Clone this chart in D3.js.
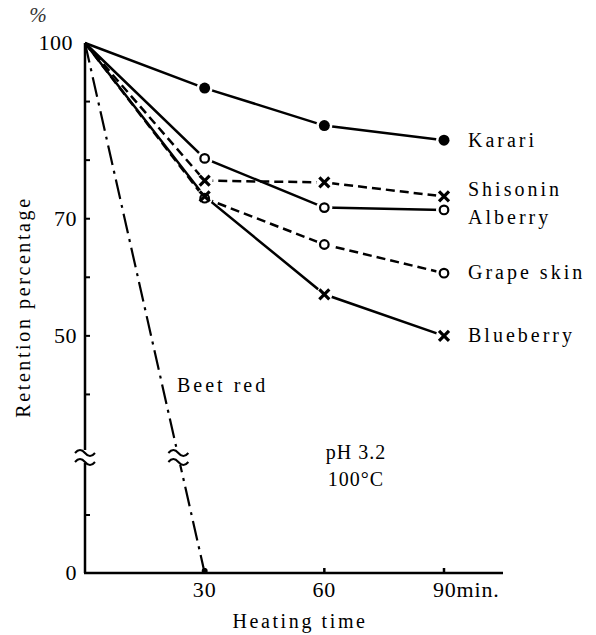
<!DOCTYPE html>
<html>
<head>
<meta charset="utf-8">
<script src="https://cdn.jsdelivr.net/npm/d3@7"></script>
<style>
  body { margin: 0; background: #fff; }
</style>
</head>
<body>
<div id="chart"></div>
<script>
// Data (retention %, heating time in min)
var times = [0, 30, 60, 90];
var karari    = [100, 92.3, 85.9, 83.4];
var shisonin  = [100, 76.5, 76.2, 73.8];
var alberry   = [100, 80.3, 71.9, 71.5];
var grapeSkin = [100, 73.5, 65.6, 60.7];
var blueberry = [100, 73.8, 57.1, 50.0];
var beetTimes = [0, 30];
var beetRed   = [100, 0];
var seriesNames = ["Karari", "Shisonin", "Alberry", "Grape skin", "Blueberry"];
var yTickLabels = [100, 70, 50, 0];
var yTicks = [90, 80, 70, 60, 50, 40, 10];
var xTicks = [30, 60, 90];
var xTickLabels = ["30", "60", "90min."];

var width = 596, height = 635;
var serif = "Liberation Serif";

var svg = d3.select("#chart").append("svg")
    .attr("width", width)
    .attr("height", height);

function label(sel, size, spacing) {
  return sel.style("font-family", serif)
      .style("font-size", size + "px")
      .style("letter-spacing", spacing + "px")
      .style("fill", "#000");
}

// Scales (y axis is broken between 10 and 30)
var x = d3.scaleLinear().domain([0, 90]).range([85, 444]);
var y = d3.scaleLinear().domain([0, 10, 30, 100]).range([573, 515, 453, 43]);
var breakTop = 450, breakBottom = 463;

// Styles per series
var styles = {
  "Karari":     { values: karari,    marker: "dot",    dash: null, labelDy: 7 },
  "Shisonin":   { values: shisonin,  marker: "cross",  dash: "9,5", labelDy: 0 },
  "Alberry":    { values: alberry,   marker: "circle", dash: null, labelDy: 14 },
  "Grape skin": { values: grapeSkin, marker: "circle", dash: "9,5", labelDy: 6 },
  "Blueberry":  { values: blueberry, marker: "cross",  dash: null, labelDy: 6 }
};

var line = d3.line()
    .x(function(d) { return x(d[0]); })
    .y(function(d) { return y(d[1]); });

// Axes
var axes = svg.append("g").attr("class", "axes")
    .attr("stroke", "#000").attr("stroke-width", 2.5).attr("fill", "none");
axes.append("line").attr("x1", x(0)).attr("x2", x(0)).attr("y1", y(100)).attr("y2", breakTop);
axes.append("line").attr("x1", x(0)).attr("x2", x(0)).attr("y1", breakBottom).attr("y2", y(0));
axes.append("line").attr("x1", x(0) - 1).attr("x2", 503).attr("y1", y(0)).attr("y2", y(0));

function wave(g, cx, cy) {
  g.append("path")
    .attr("d", "M" + (cx - 10) + "," + (cy + 2) + " q5,-6 10,0 t10,0")
    .attr("stroke", "#000").attr("stroke-width", 2).attr("fill", "none");
}
var breaks = svg.append("g");
wave(breaks, x(0), breakTop + 1);
wave(breaks, x(0), breakBottom - 3);

// y ticks (inward)
axes.selectAll(".ytick").data(yTicks).enter().append("line")
    .attr("x1", x(0)).attr("x2", x(0) + 5)
    .attr("y1", function(d) { return y(d); })
    .attr("y2", function(d) { return y(d); })
    .attr("stroke-width", 2);

// x ticks (upward)
axes.selectAll(".xtick").data(xTicks).enter().append("line")
    .attr("x1", function(d) { return x(d); })
    .attr("x2", function(d) { return x(d); })
    .attr("y1", y(0)).attr("y2", y(0) - 5)
    .attr("stroke-width", 2.5);

label(svg.selectAll(".ylab").data(yTickLabels).enter().append("text")
    .attr("x", function(d) { return d === 100 ? x(0) - 12 : x(0) - 8; })
    .attr("y", function(d) { return y(d) + 7; })
    .attr("text-anchor", "end"), 22, 0.5)
    .text(function(d) { return d; });

label(svg.selectAll(".xlab").data(xTicks).enter().append("text")
    .attr("x", function(d, i) { return i < 2 ? x(d) : x(d) - 11; })
    .attr("y", 597)
    .attr("text-anchor", function(d, i) { return i < 2 ? "middle" : "start"; }), 22, 0.8)
    .text(function(d, i) { return xTickLabels[i]; });

label(svg.append("text")
    .attr("x", 38).attr("y", 22)
    .attr("text-anchor", "middle"), 21, 0)
    .style("font-style", "italic")
    .style("fill", "#333")
    .text("%");

label(svg.append("text")
    .attr("transform", "translate(30,307) rotate(-90)")
    .attr("text-anchor", "middle"), 20, 2.6)
    .text("Retention percentage");

label(svg.append("text")
    .attr("x", 300).attr("y", 628)
    .attr("text-anchor", "middle"), 20, 2.6)
    .text("Heating time");

// Beet red (dash-dot, crosses the axis break)
var beetPts = beetTimes.map(function(t, i) { return [t, beetRed[i]]; });
svg.append("path")
    .attr("d", line(beetPts))
    .attr("fill", "none").attr("stroke", "#000").attr("stroke-width", 2.2)
    .attr("stroke-dasharray", "20,6,3,6");
var bx0 = x(beetTimes[0]), by0 = y(beetRed[0]), bx1 = x(beetTimes[1]), by1 = y(beetRed[1]);
var tb = ((breakTop + breakBottom) / 2 - by0) / (by1 - by0);
var bbx = bx0 + tb * (bx1 - bx0);
svg.append("rect")
    .attr("x", bbx - 10).attr("y", breakTop - 2)
    .attr("width", 20).attr("height", breakBottom - breakTop + 4)
    .attr("fill", "#fff");
var breaks2 = svg.append("g");
wave(breaks2, bbx, breakTop + 1);
wave(breaks2, bbx, breakBottom - 3);
svg.append("circle").attr("cx", bx1).attr("cy", by1 - 2).attr("r", 3).attr("fill", "#000");

label(svg.append("text")
    .attr("x", 177).attr("y", 392), 20, 3)
    .text("Beet red");

// Series lines
seriesNames.forEach(function(name) {
  var s = styles[name];
  var pts = times.map(function(t, i) { return [t, s.values[i]]; });
  svg.append("path")
      .attr("d", line(pts))
      .attr("fill", "none").attr("stroke", "#000").attr("stroke-width", 2.5)
      .attr("stroke-dasharray", s.dash);
});

// White gaps around markers, then markers
seriesNames.forEach(function(name) {
  var s = styles[name];
  times.slice(1).forEach(function(t, i) {
    svg.append("circle")
        .attr("cx", x(t)).attr("cy", y(s.values[i + 1]))
        .attr("r", 8).attr("fill", "#fff");
  });
});

seriesNames.forEach(function(name) {
  var s = styles[name];
  var g = svg.append("g");
  times.slice(1).forEach(function(t, i) {
    var cx = x(t), cy = y(s.values[i + 1]);
    if (s.marker === "dot") {
      g.append("circle").attr("cx", cx).attr("cy", cy).attr("r", 5.5).attr("fill", "#000");
    } else if (s.marker === "circle") {
      g.append("circle").attr("cx", cx).attr("cy", cy).attr("r", 4.3)
          .attr("fill", "#fff").attr("stroke", "#000").attr("stroke-width", 2.2);
    } else {
      g.append("path")
          .attr("d", "M" + (cx - 5) + "," + (cy - 5) + "L" + (cx + 5) + "," + (cy + 5) +
                     "M" + (cx - 5) + "," + (cy + 5) + "L" + (cx + 5) + "," + (cy - 5))
          .attr("stroke", "#000").attr("stroke-width", 3.2);
    }
  });
  label(svg.append("text")
      .attr("x", 468)
      .attr("y", y(s.values[s.values.length - 1]) + s.labelDy), 20, 3)
      .text(name);
});

label(svg.append("text")
    .attr("x", 356).attr("y", 459)
    .attr("text-anchor", "middle"), 20, 1)
    .text("pH 3.2");
label(svg.append("text")
    .attr("x", 356).attr("y", 486)
    .attr("text-anchor", "middle"), 20, 1)
    .text("100°C");
</script>
</body>
</html>
